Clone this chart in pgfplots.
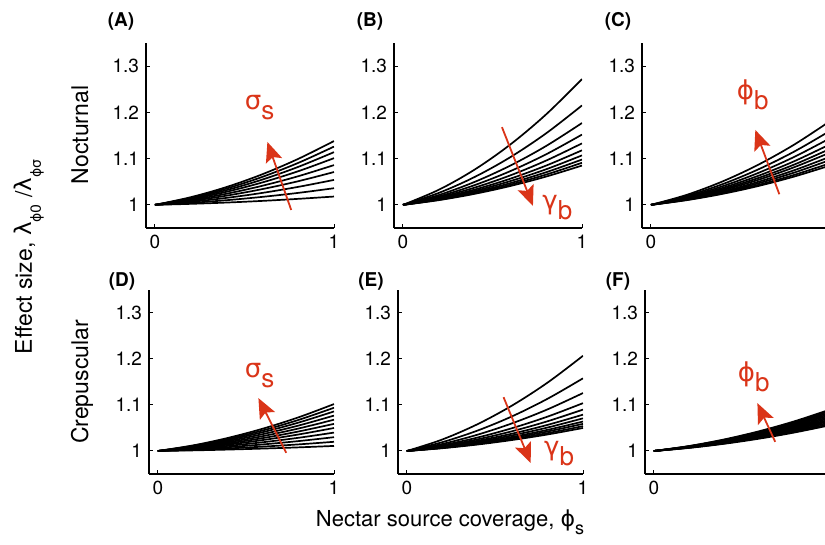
\documentclass[border=0pt]{standalone}
\usepackage{pgfplots}
\pgfplotsset{compat=1.18}
\usepackage{pgfplotstable}
\usepackage{fontspec}
\setmainfont{TeX Gyre Heros}
\newfontfamily\gr{DejaVu Sans}
\usetikzlibrary{arrows.meta}
\definecolor{annot}{RGB}{218,52,24}

\pgfplotstableread{
x c1 c2 c3 c4 c5 c6 c7 c8 c9
0 1 1 1 1 1 1 1 1 1
0.2 1.0166 1.0151 1.0137 1.0121 1.0103 1.0085 1.0065 1.0043 1.0022
0.4 1.0386 1.0353 1.0319 1.0283 1.0241 1.0199 1.0151 1.0101 1.0050
0.6 1.0662 1.0605 1.0547 1.0485 1.0413 1.0341 1.0259 1.0173 1.0086
0.8 1.0994 1.0907 1.0821 1.0727 1.0619 1.0511 1.0389 1.0259 1.0130
1 1.138 1.126 1.114 1.101 1.086 1.071 1.054 1.036 1.018
}\tA
\pgfplotstableread{
x c1 c2 c3 c4 c5 c6 c7 c8 c9 c10
0 1 1 1 1 1 1 1 1 1 1
0.2 1.0326 1.0258 1.0212 1.0182 1.0160 1.0142 1.0128 1.0118 1.0109 1.0102
0.4 1.0762 1.0602 1.0496 1.0426 1.0372 1.0330 1.0300 1.0274 1.0255 1.0238
0.6 1.1306 1.1032 1.0850 1.0730 1.0638 1.0566 1.0514 1.0470 1.0437 1.0408
0.8 1.1958 1.1548 1.1274 1.1094 1.0958 1.0850 1.0770 1.0706 1.0655 1.0612
1 1.272 1.215 1.177 1.152 1.133 1.118 1.107 1.098 1.091 1.085
}\tB
\pgfplotstableread{
x c1 c2 c3 c4 c5 c6 c7 c8 c9 c10
0 1 1 1 1 1 1 1 1 1 1
0.2 1.0217 1.0192 1.0173 1.0157 1.0145 1.0136 1.0125 1.0116 1.0108 1.0102
0.4 1.0507 1.0448 1.0403 1.0367 1.0339 1.0316 1.0291 1.0272 1.0252 1.0238
0.6 1.0869 1.0768 1.0691 1.0629 1.0581 1.0542 1.0499 1.0466 1.0432 1.0408
0.8 1.1303 1.1152 1.1037 1.0943 1.0871 1.0814 1.0749 1.0698 1.0648 1.0612
1 1.181 1.160 1.144 1.131 1.121 1.113 1.104 1.097 1.090 1.085
}\tC
\pgfplotstableread{
x c1 c2 c3 c4 c5 c6 c7 c8 c9 c10 c11
0 1 1 1 1 1 1 1 1 1 1 1
0.2 1.0122 1.0113 1.0103 1.0092 1.0082 1.0071 1.0060 1.0048 1.0036 1.0024 1.0013
0.4 1.0286 1.0263 1.0241 1.0216 1.0190 1.0165 1.0140 1.0112 1.0084 1.0056 1.0031
0.6 1.0490 1.0451 1.0413 1.0370 1.0326 1.0283 1.0240 1.0192 1.0144 1.0096 1.0053
0.8 1.0734 1.0677 1.0619 1.0554 1.0490 1.0425 1.0360 1.0288 1.0216 1.0144 1.0079
1 1.102 1.094 1.086 1.077 1.068 1.059 1.050 1.040 1.030 1.020 1.011
}\tD
\pgfplotstableread{
x c1 c2 c3 c4 c5 c6 c7 c8 c9 c10 c11
0 1 1 1 1 1 1 1 1 1 1 1
0.2 1.0248 1.0190 1.0151 1.0125 1.0108 1.0095 1.0085 1.0077 1.0071 1.0065 1.0060
0.4 1.0580 1.0442 1.0353 1.0291 1.0252 1.0221 1.0199 1.0179 1.0165 1.0151 1.0140
0.6 1.0994 1.0758 1.0605 1.0499 1.0432 1.0379 1.0341 1.0307 1.0283 1.0259 1.0240
0.8 1.1490 1.1138 1.0907 1.0749 1.0648 1.0569 1.0511 1.0461 1.0425 1.0389 1.0360
1 1.207 1.158 1.126 1.104 1.090 1.079 1.071 1.064 1.059 1.054 1.050
}\tE
\pgfplotstableread{
x c1 c2 c3 c4 c5 c6 c7 c8 c9 c10 c11 c12
0 1 1 1 1 1 1 1 1 1 1 1 1
0.2 1.0108 1.0104 1.0101 1.0097 1.0093 1.0089 1.0086 1.0082 1.0078 1.0075 1.0071 1.0067
0.4 1.0252 1.0243 1.0235 1.0226 1.0217 1.0209 1.0200 1.0192 1.0183 1.0174 1.0165 1.0157
0.6 1.0432 1.0417 1.0402 1.0387 1.0372 1.0358 1.0343 1.0328 1.0313 1.0299 1.0284 1.0269
0.8 1.0648 1.0626 1.0603 1.0581 1.0559 1.0536 1.0515 1.0492 1.0470 1.0448 1.0426 1.0403
1 1.090 1.0869 1.0838 1.0807 1.0776 1.0745 1.0715 1.0684 1.0653 1.0622 1.0591 1.056
}\tF

\pgfplotsset{
  panel/.style={
    scale only axis, width=94pt,
    xmin=-0.05, xmax=1, ymin=0.95, ymax=1.35,
    axis lines=left, axis line style={-, line width=0.7pt, black},
    xtick={0,1}, xticklabels={0,1},
    ytick={1,1.1,1.2,1.3}, yticklabels={1,1.1,1.2,1.3},
    tick align=inside, major tick length=2pt,
    tick style={line width=0.5pt, black},
    tick label style={font=\fontsize{9.5}{10}\selectfont},
    clip mode=individual,
    cycle list={{black, mark=none, solid}},
    every axis plot/.append style={line width=0.85pt, smooth, tension=0.55},
    no markers,
  },
  row1/.style={panel, height=92.5pt},
  row2/.style={panel, height=92pt, width=92.5pt},
}
\tikzset{
  ann/.style={annot, line width=0.9pt, -{Stealth[length=10pt,width=8.5pt,inset=2pt]}},
  glab/.style={annot, inner sep=0pt, anchor=base west, font=\fontsize{13}{13}\selectfont},
}
\newcommand{\sub}[1]{\raisebox{-5pt}{#1}}

\begin{document}
\begin{tikzpicture}
\useasboundingbox (0,0) rectangle (412.5pt,272.5pt);
\clip (0,0) rectangle (412.5pt,272.5pt);

% (A)
\begin{axis}[row1, at={(73pt,158.5pt)}, anchor=south west]
\pgfplotsinvokeforeach{1,...,9}{\addplot table[x=x,y=c#1]{\tA};}
\draw[ann] (axis cs:0.761,0.989) -- (axis cs:0.628,1.136);
\node[glab] at (axis cs:0.50,1.206) {{\gr σ}\sub{s}};
\end{axis}
% (B)
\begin{axis}[row1, at={(197pt,158.5pt)}, anchor=south west]
\pgfplotsinvokeforeach{1,...,10}{\addplot table[x=x,y=c#1]{\tB};}
\draw[ann] (axis cs:0.553,1.168) -- (axis cs:0.726,0.998);
\node[glab] at (axis cs:0.777,0.991) {{\gr γ}\sub{b}};
\end{axis}
% (C)
\begin{axis}[row1, at={(321pt,158.5pt)}, anchor=south west]
\pgfplotsinvokeforeach{1,...,10}{\addplot table[x=x,y=c#1]{\tC};}
\draw[ann] (axis cs:0.717,1.023) -- (axis cs:0.583,1.162);
\node[glab] at (axis cs:0.478,1.228) {{\gr ϕ}\sub{b}};
\end{axis}
% (D)
\begin{axis}[row2, at={(74.5pt,35.5pt)}, anchor=south west]
\pgfplotsinvokeforeach{1,...,11}{\addplot table[x=x,y=c#1]{\tD};}
\draw[ann] (axis cs:0.729,0.996) -- (axis cs:0.571,1.115);
\node[glab] at (axis cs:0.492,1.159) {{\gr σ}\sub{s}};
\end{axis}
% (E)
\begin{axis}[row2, at={(199pt,35.5pt)}, anchor=south west]
\pgfplotsinvokeforeach{1,...,11}{\addplot table[x=x,y=c#1]{\tE};}
\draw[ann] (axis cs:0.549,1.117) -- (axis cs:0.703,0.974);
\node[glab] at (axis cs:0.777,0.991) {{\gr γ}\sub{b}};
\end{axis}
% (F)
\begin{axis}[row2, at={(322.5pt,35.5pt)}, anchor=south west]
\pgfplotsinvokeforeach{1,...,12}{\addplot table[x=x,y=c#1]{\tF};}
\draw[ann] (axis cs:0.689,1.020) -- (axis cs:0.588,1.104);
\node[glab] at (axis cs:0.475,1.150) {{\gr ϕ}\sub{b}};
\end{axis}

% panel letters
\begin{scope}[every node/.style={font=\fontsize{9.5}{10}\selectfont\bfseries, inner sep=0pt}]
\node at (60.5pt,262pt) {(A)};
\node at (185pt,262pt) {(B)};
\node at (309pt,262pt) {(C)};
\node at (61pt,132pt) {(D)};
\node at (185.5pt,132pt) {(E)};
\node at (309pt,132pt) {(F)};
\end{scope}

% row labels
\node[rotate=90, anchor=base, inner sep=0pt, font=\fontsize{11.5}{12}\selectfont] at (44pt,205pt) {Nocturnal};
\node[rotate=90, anchor=base, inner sep=0pt, font=\fontsize{11.5}{12}\selectfont] at (44pt,81.5pt) {Crepuscular};

% y label
\node[rotate=90, anchor=base, inner sep=0pt, font=\fontsize{11.5}{12}\selectfont] at (16pt,144pt)
  {Effect size, {\gr λ}\raisebox{-4.5pt}{\fontsize{7}{7}\selectfont\gr ϕ0} /{\gr λ}\raisebox{-4.5pt}{\fontsize{7}{7}\selectfont\gr ϕσ}};

% x label
\node[anchor=base, inner sep=0pt, font=\fontsize{11}{12}\selectfont] at (225pt,9pt)
  {Nectar source coverage, {\gr ϕ}\raisebox{-4pt}{\fontsize{9}{9}\selectfont s}};
\end{tikzpicture}
\end{document}
